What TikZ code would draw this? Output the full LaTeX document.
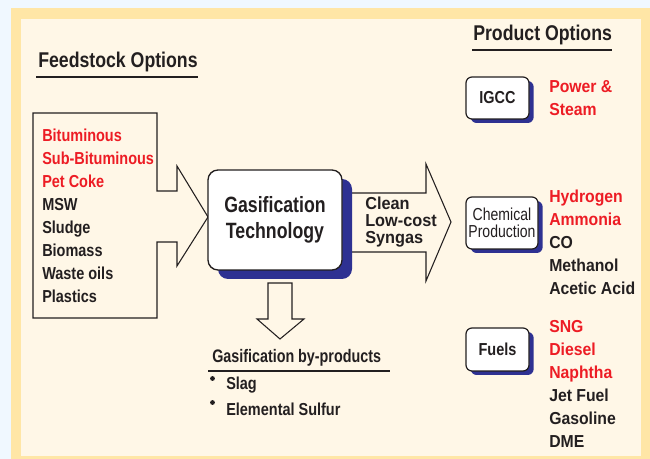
\documentclass[tikz,border=0pt]{standalone}
\usepackage{fontspec}
\usetikzlibrary{shadows}
\setmainfont{Liberation Sans}
\newfontfamily\fNA[FakeStretch=0.835]{Liberation Sans}
\newfontfamily\fNT[FakeStretch=0.83]{Liberation Sans}
\newfontfamily\fNG[FakeStretch=0.80]{Liberation Sans}
\newfontfamily\fNB[FakeStretch=0.91]{Liberation Sans}
\newfontfamily\fNM[FakeStretch=0.94]{Liberation Sans}
\newfontfamily\fNC[FakeStretch=0.81]{Liberation Sans}
\newfontfamily\fNP[FakeStretch=0.79]{Liberation Sans}
\definecolor{bgblue}{RGB}{240,248,255}
\definecolor{frameor}{RGB}{255,230,166}
\definecolor{cream}{RGB}{255,247,231}
\definecolor{ink}{RGB}{35,31,32}
\definecolor{hired}{RGB}{237,28,36}
\definecolor{shblue}{RGB}{46,49,146}
\begin{document}
\begin{tikzpicture}[x=0.75pt,y=-0.75pt,
  lista/.style={anchor=base west,inner sep=0pt,text=ink,font=\fNA\bfseries\fontsize{13}{15}\selectfont},
  listb/.style={anchor=base west,inner sep=0pt,text=ink,font=\fNB\bfseries\fontsize{13}{15}\selectfont},
  listm/.style={anchor=base west,inner sep=0pt,text=ink,font=\fNM\bfseries\fontsize{13}{15}\selectfont},
  hot/.style={text=hired},
  heading/.style={anchor=base west,inner sep=0pt,text=ink,font=\fNT\bfseries\fontsize{16}{18}\selectfont},
  uline/.style={draw=ink,line width=2pt},
  blockarrow/.style={draw=ink,line width=0.8pt,fill=cream,line join=miter},
  smallbox/.style={draw=ink,line width=0.9pt,fill=white,rounded corners=4.5pt,inner sep=0pt,
     text=ink,drop shadow={shadow xshift=3.5pt,shadow yshift=-3pt,fill=shblue,opacity=1}},
  bullet/.style={fill=ink,circle,inner sep=0pt,minimum size=3.6pt}
]
\useasboundingbox (0,0) rectangle (650,459);
% frame
\fill[bgblue] (0,0) rectangle (650,459);
\fill[frameor] (11,8) rectangle (650,459);
\fill[cream] (21,19) rectangle (641,456);

% headings
\node[heading] (fh) at (38,68) {Feedstock Options};
\draw[uline] (36,77) -- (198,77);
\node[heading] (ph) at (473,41) {Product Options};
\draw[uline] (472,50) -- (612,50);

% feedstock block arrow
\draw[blockarrow] (33,113) -- (157,113) -- (157,191) -- (177,191) -- (177,166) -- (208,217)
   -- (177,266) -- (177,242) -- (157,242) -- (157,318) -- (33,318) -- cycle;
\node[lista,hot] (f1) at (42,142) {Bituminous};
\node[lista,hot] (f2) at (42,165) {Sub-Bituminous};
\node[lista,hot] (f3) at (42,188) {Pet Coke};
\node[lista] (f4) at (42,211) {MSW};
\node[lista] (f5) at (42,234) {Sludge};
\node[lista] (f6) at (42,257) {Biomass};
\node[lista] (f7) at (42,280) {Waste oils};
\node[lista] (f8) at (42,303) {Plastics};

% syngas arrow (behind the box)
\draw[blockarrow] (330,193) -- (426,193) -- (426,164) -- (451,222) -- (426,281) -- (426,252) -- (330,252) -- cycle;
\node[listm] (s1) at (365,210) {Clean};
\node[listm] (s2) at (365,227) {Low-cost};
\node[listm] (s3) at (365,244) {Syngas};

% down arrow
\draw[blockarrow] (268,283) -- (292,283) -- (292,319) -- (304,319) -- (280,339) -- (257,319) -- (268,319) -- cycle;

% gasification box
\node[draw=ink,line width=1pt,fill=white,rounded corners=7.5pt,inner sep=0pt,
      minimum width=100.5pt,minimum height=75pt,align=center,text=ink,
      font=\fNG\bfseries\fontsize{16.6}{19.5}\selectfont,
      drop shadow={shadow xshift=7.5pt,shadow yshift=-6.75pt,fill=shblue,opacity=1}]
      (gt) at (275,220) {Gasification\\Technology};

% by-products
\node[anchor=base west,inner sep=0pt,text=ink,font=\fNP\bfseries\fontsize{13.6}{16}\selectfont] (bp) at (212,363) {Gasification by-products};
\draw[draw=ink,line width=1.8pt] (208,371) -- (390,371);
\node[bullet] (b1) at (212.5,378.5) {};
\node[bullet] (b2) at (212.5,402.5) {};
\node[lista] (sl) at (226,390) {Slag};
\node[lista] (es) at (226,416) {Elemental Sulfur};

% product boxes
\node[smallbox,minimum width=47.25pt,minimum height=31.5pt,font=\fNA\bfseries\fontsize{13}{15}\selectfont] (ig) at (497.5,98) {IGCC};
\node[smallbox,minimum width=54pt,minimum height=39pt,align=center,font=\fNC\fontsize{13}{12.75}\selectfont] (cp) at (502,223) {Chemical\\Production};
\node[smallbox,minimum width=47.25pt,minimum height=32.25pt,font=\fNA\bfseries\fontsize{13}{15}\selectfont] (fu) at (497.5,349.5) {Fuels};

% product lists
\node[listb,hot] (p1) at (549,93) {Power \&};
\node[listb,hot] (p2) at (549,116) {Steam};

\node[listb,hot] (c1) at (549,203) {Hydrogen};
\node[listb,hot] (c2) at (549,226) {Ammonia};
\node[listb] (c3) at (549,249) {CO};
\node[listb] (c4) at (549,272) {Methanol};
\node[listb] (c5) at (549,295) {Acetic Acid};

\node[listb,hot] (u1) at (549,333) {SNG};
\node[listb,hot] (u2) at (549,356) {Diesel};
\node[listb,hot] (u3) at (549,379) {Naphtha};
\node[listb] (u4) at (549,402) {Jet Fuel};
\node[listb] (u5) at (549,425) {Gasoline};
\node[listb] (u6) at (549,448) {DME};
\end{tikzpicture}
\end{document}
